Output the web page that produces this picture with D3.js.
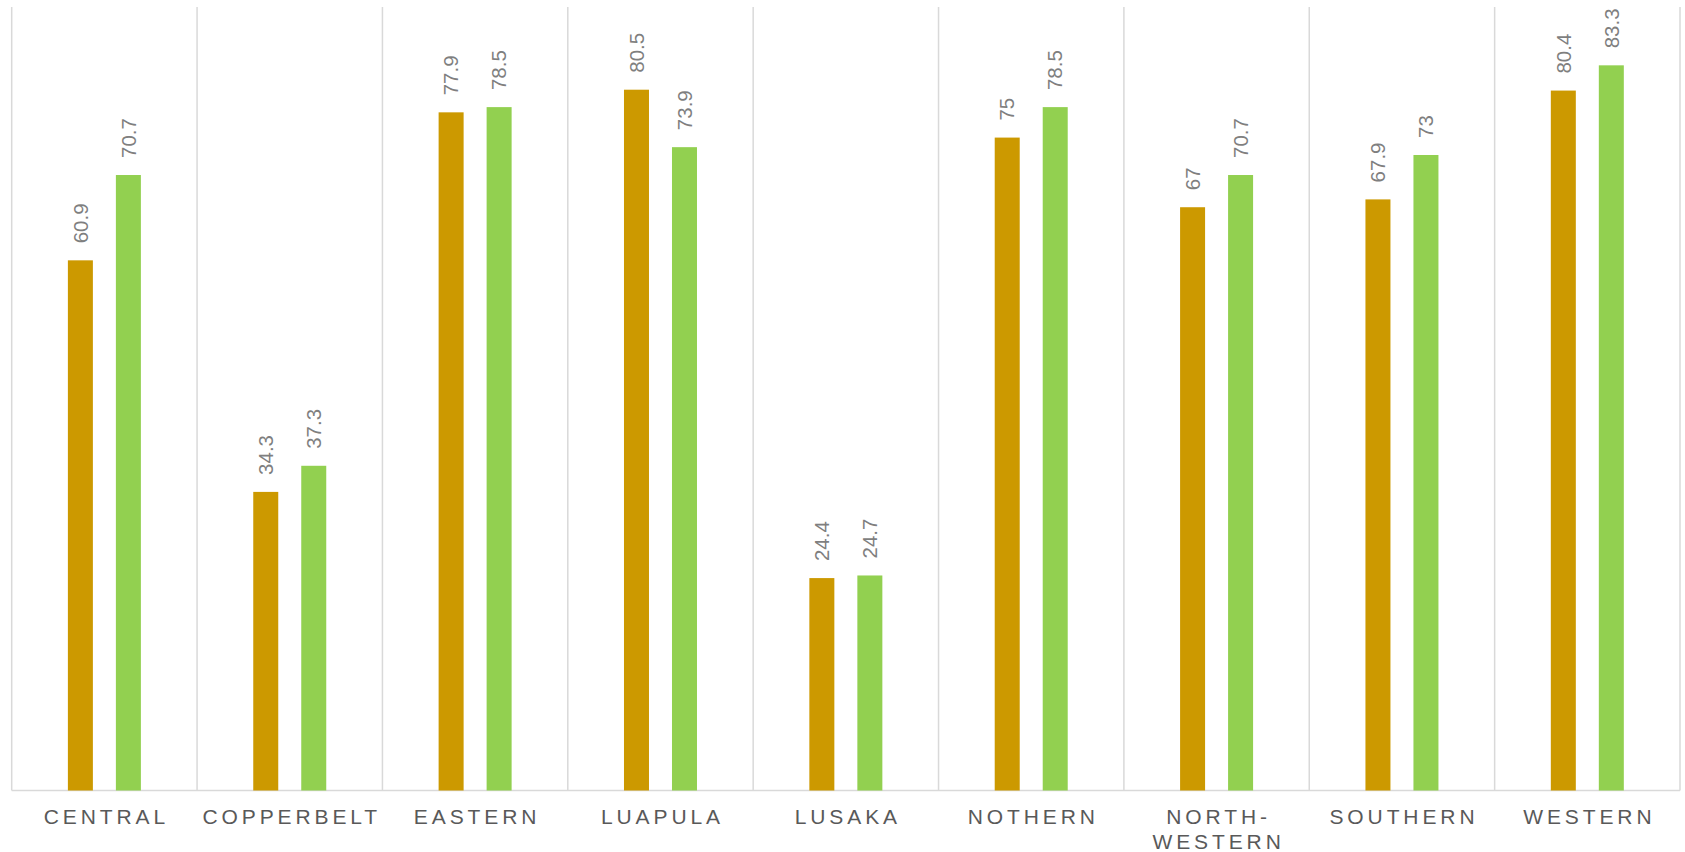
<!DOCTYPE html>
<html>
<head>
<meta charset="utf-8">
<script src="https://cdn.jsdelivr.net/npm/d3@7"></script>
<style>
  html, body { margin: 0; padding: 0; background: #ffffff; }
  svg { display: block; font-family: "Liberation Sans", Arial, sans-serif; }
</style>
</head>
<body>
<svg id="chart" width="1685" height="852"></svg>
<script>
// Provinces along the x axis (multi-line labels split on "\n")
const categories = ["CENTRAL", "COPPERBELT", "EASTERN", "LUAPULA", "LUSAKA",
                    "NOTHERN", "NORTH-\nWESTERN", "SOUTHERN", "WESTERN"];
const seriesNames = ["first", "second"];
const firstValues  = [60.9, 34.3, 77.9, 80.5, 24.4, 75, 67, 67.9, 80.4];
const secondValues = [70.7, 37.3, 78.5, 73.9, 24.7, 78.5, 70.7, 73, 83.3];
const seriesColors = ["#CC9900", "#92D050"];
const yDomain = [0, 90];

const svg = d3.select("#chart");
const margin = { left: 11.7, right: 5, top: 7, bottom: 61.5 };
const W = 1685, H = 852;
const plotBottom = H - margin.bottom;

const x0 = d3.scaleBand()
  .domain(categories)
  .range([margin.left, W - margin.right])
  .padding(0);

// offsets of the two bars around each category centre
const x1 = d3.scalePoint().domain(seriesNames).range([-24, 24]);
const barWidth = 25;

const y = d3.scaleLinear().domain(yDomain).range([plotBottom, margin.top]);

const rows = categories.map((c, i) => ({
  cat: c,
  vals: [
    { s: seriesNames[0], v: firstValues[i] },
    { s: seriesNames[1], v: secondValues[i] }
  ]
}));

// vertical separators between categories
const edges = categories.map(c => x0(c)).concat([x0.range()[1]]);
svg.append("g").selectAll("line")
  .data(edges)
  .join("line")
  .attr("x1", d => d).attr("x2", d => d)
  .attr("y1", margin.top).attr("y2", plotBottom)
  .attr("stroke", "#d9d9d9").attr("stroke-width", 1.5);

// baseline
svg.append("line")
  .attr("x1", x0.range()[0]).attr("x2", x0.range()[1])
  .attr("y1", plotBottom).attr("y2", plotBottom)
  .attr("stroke", "#d9d9d9").attr("stroke-width", 1.5);

const groups = svg.append("g").selectAll("g")
  .data(rows)
  .join("g")
  .attr("transform", d => `translate(${x0(d.cat) + x0.bandwidth() / 2},0)`);

groups.selectAll("rect")
  .data(d => d.vals)
  .join("rect")
  .attr("x", d => x1(d.s) - barWidth / 2)
  .attr("width", barWidth)
  .attr("y", d => y(d.v))
  .attr("height", d => y(0) - y(d.v))
  .attr("fill", (d, i) => seriesColors[i]);

// rotated value labels above each bar
groups.selectAll("text.value")
  .data(d => d.vals)
  .join("text")
  .attr("class", "value")
  .attr("transform", d => `translate(${x1(d.s)},${y(d.v) - 17}) rotate(-90)`)
  .attr("text-anchor", "start")
  .attr("dy", "0.35em")
  .attr("font-size", 20.5)
  .attr("fill", "#7f7f7f")
  .text(d => String(d.v));

// category labels
const catLabels = svg.append("g").selectAll("text")
  .data(categories)
  .join("text")
  .attr("x", d => x0(d) + x0.bandwidth() / 2 + 2)
  .attr("y", plotBottom + 33.5)
  .attr("text-anchor", "middle")
  .attr("font-size", 21)
  .attr("letter-spacing", "3.9px")
  .attr("fill", "#595959");

catLabels.each(function (d) {
  const t = d3.select(this);
  d.split("\n").forEach((line, i) => {
    t.append("tspan")
      .attr("x", x0(d) + x0.bandwidth() / 2 + 2)
      .attr("dy", i === 0 ? 0 : 25)
      .text(line);
  });
});
</script>
</body>
</html>
